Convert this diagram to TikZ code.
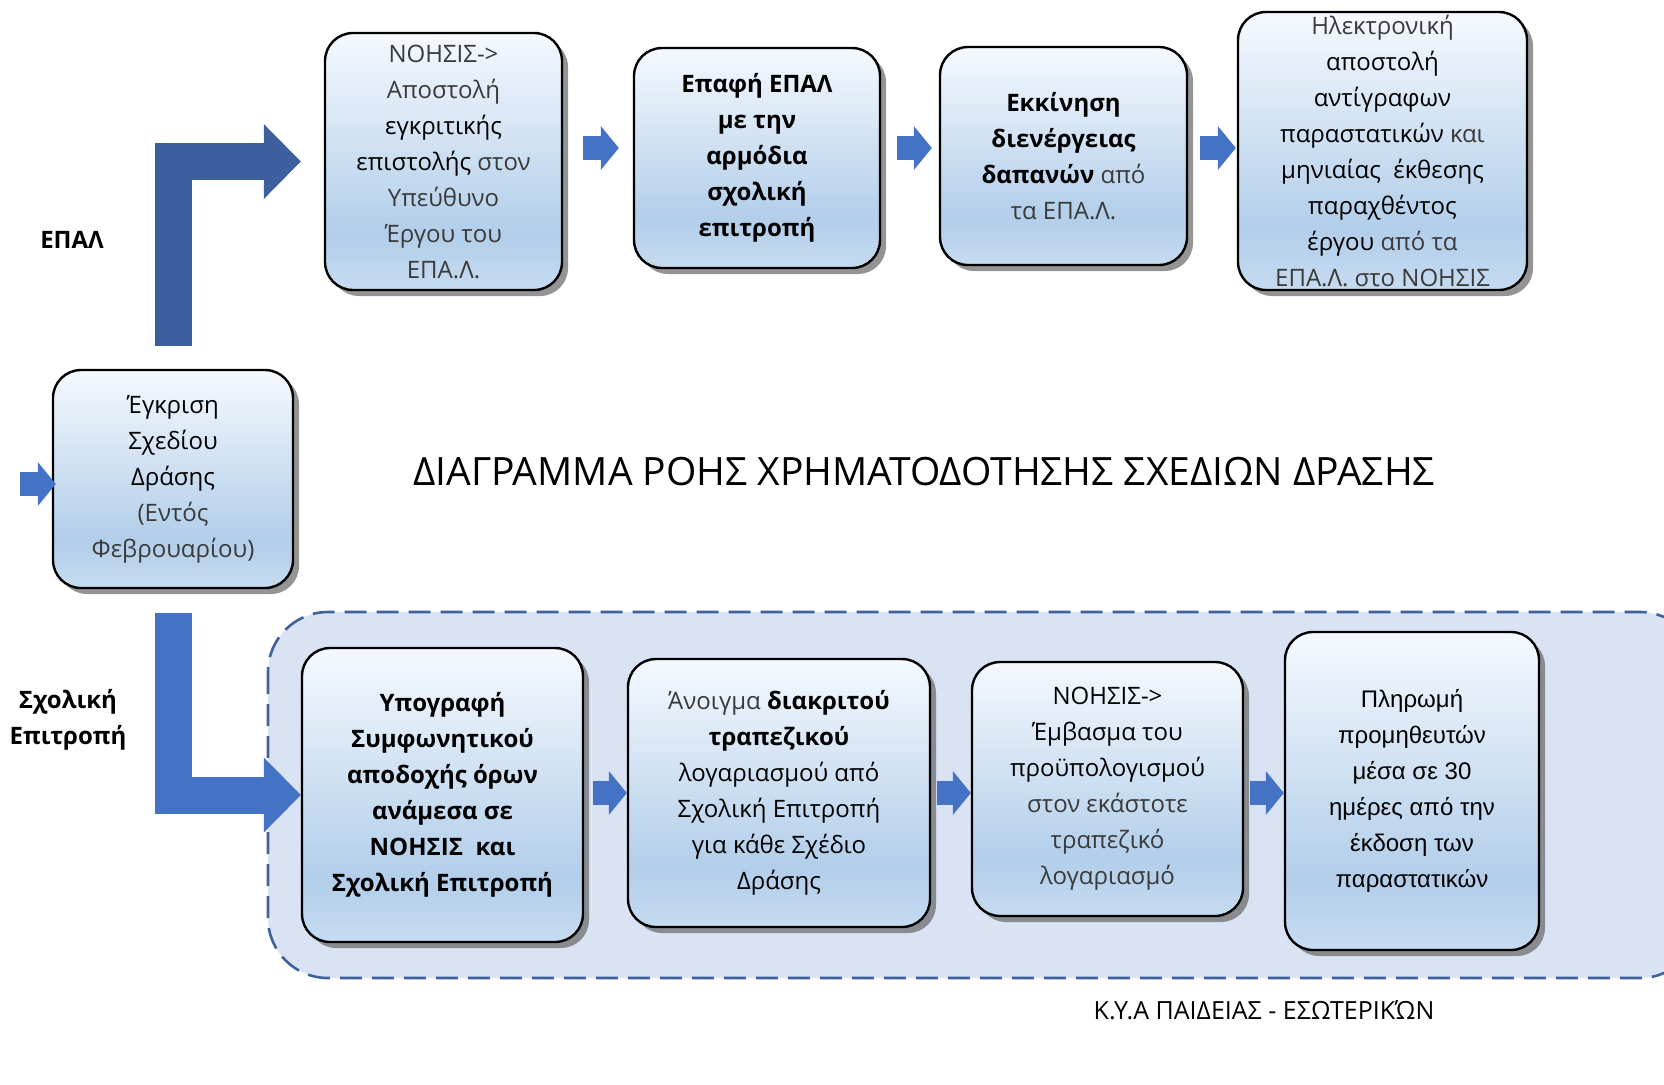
\documentclass[tikz,border=0pt]{standalone}
\usepackage{fontspec}
\setmainfont{Open Sans}
\newfontfamily\arialfont{Liberation Sans}
\usetikzlibrary{arrows.meta,shadows,positioning,calc}
\definecolor{boxtop}{HTML}{F5F9FE}
\definecolor{boxbot}{HTML}{B2CEEA}
\definecolor{boxlow}{HTML}{C6DBF0}
\definecolor{flowblue}{HTML}{4472C4}
\definecolor{flowdark}{HTML}{3E5F9E}
\definecolor{groupfill}{HTML}{DAE3F3}
\definecolor{groupline}{HTML}{41609E}
\definecolor{faintgray}{HTML}{3A3A3A}
\pgfdeclareverticalshading{stagefade}{100bp}{color(0bp)=(boxlow); color(25bp)=(boxlow); color(36bp)=(boxbot); color(75bp)=(boxtop); color(100bp)=(boxtop)}
\newcommand{\faint}[1]{{\color{faintgray}#1}}
\tikzstyle{stage} = [draw, rounded corners=14pt, line width=1.2pt, shading=stagefade, drop shadow={shadow xshift=3pt, shadow yshift=-3pt, fill=black!60, opacity=0.7}, align=center, font=\fontsize{12}{18}\selectfont, inner sep=1pt]
\tikzstyle{flow} = [draw=flowblue, line width=12pt, -{Triangle[width=22pt, length=9pt, line width=0pt]}]
\tikzstyle{bigflow} = [draw, line width=18.5pt, line join=miter, -{Triangle[width=37.5pt, length=18.5pt, line width=0pt]}]
\tikzstyle{group} = [fill=groupfill, draw=groupline, line width=1.3pt, dash pattern=on 11pt off 5pt, rounded corners=30pt]
\tikzstyle{lane} = [align=center, font=\bfseries\fontsize{12}{18}\selectfont]

\begin{document}
\begin{tikzpicture}[x=0.5pt, y=-0.5pt, >=stealth]
    \useasboundingbox (0,0) rectangle (1664,1084);
    \draw [group] (268,612) rectangle (1700,978);

    \node [stage, minimum width=120pt, minimum height=109pt] (approve) at (173,479) {Έγκριση\\Σχεδίου\\Δράσης\\\faint{(Εντός}\\\faint{Φεβρουαρίου)}};
    \node [stage, minimum width=118.5pt, minimum height=128.5pt] (letter) at (443.5,161.5) {\faint{ΝΟΗΣΙΣ->}\\\faint{Αποστολή}\\εγκριτικής\\επιστολής \faint{στον}\\\faint{Υπεύθυνο}\\\faint{Έργου του}\\\faint{ΕΠΑ.Λ.}};
    \node [stage, minimum width=123pt, minimum height=110pt, font=\bfseries\fontsize{12}{18}\selectfont] (contact) at (757,158) {Επαφή ΕΠΑΛ\\με την\\αρμόδια\\σχολική\\επιτροπή};
    \node [stage, minimum width=123.5pt, minimum height=109pt] (spend) at (1063.5,156) {\textbf{Εκκίνηση}\\\textbf{διενέργειας}\\\textbf{δαπανών} \faint{από}\\\faint{τα ΕΠΑ.Λ.}};
    \node [stage, minimum width=144.5pt, minimum height=139pt, inner ysep=0pt] (report) at (1382.5,151) {\faint{Ηλεκτρονική}\\αποστολή\\αντίγραφων\\παραστατικών \faint{και}\\μηνιαίας\ \ έκθεσης\\παραχθέντος\\έργου \faint{από τα}\\\faint{ΕΠΑ.Λ. στο ΝΟΗΣΙΣ}};

    \node [stage, minimum width=140.5pt, minimum height=147pt, font=\bfseries\fontsize{12}{18}\selectfont] (sign) at (442.5,795) {Υπογραφή\\Συμφωνητικού\\αποδοχής όρων\\ανάμεσα σε\\ΝΟΗΣΙΣ\ \ και\\Σχολική Επιτροπή};
    \node [stage, minimum width=151pt, minimum height=134pt] (account) at (779,793) {\faint{Άνοιγμα} \textbf{διακριτού}\\\textbf{τραπεζικού}\\λογαριασμού από\\Σχολική Επιτροπή\\για κάθε Σχέδιο\\Δράσης};
    \node [stage, minimum width=135.5pt, minimum height=127pt] (transfer) at (1107.5,789) {ΝΟΗΣΙΣ->\\Έμβασμα του\\προϋπολογισμού\\\faint{στον εκάστοτε}\\\faint{τραπεζικό}\\\faint{λογαριασμό}};
    \node [stage, minimum width=127pt, minimum height=159pt, font=\arialfont\fontsize{12}{18}\selectfont] (payment) at (1412,791) {Πληρωμή\\προμηθευτών\\μέσα σε 30\\ημέρες από την\\έκδοση των\\παραστατικών};

    \node [lane] (epal) at (72,240) {ΕΠΑΛ};
    \node [lane] (committee) at (68,720) {Σχολική\\Επιτροπή};
    \node [font=\fontsize{19.5}{22}\selectfont] (title) at (924,472) {ΔΙΑΓΡΑΜΜΑ ΡΟΗΣ ΧΡΗΜΑΤΟΔΟΤΗΣΗΣ ΣΧΕΔΙΩΝ ΔΡΑΣΗΣ};
    \node [font=\fontsize{12.5}{14}\selectfont] (source) at (1264,1010) {Κ.Υ.Α ΠΑΙΔΕΙΑΣ - ΕΣΩΤΕΡΙΚΏΝ};

    \coordinate (entry) at (20,484);
    \coordinate (toprow) at (0,148);
    \coordinate (botrow) at (0,793);

    \draw [bigflow, flowdark, shorten <=11.5pt, shorten >=11.5pt] (approve.north) |- (letter.west);
    \draw [bigflow, flowblue, shorten <=12pt] (approve.south) |- (sign.west);
    \draw [flow, shorten >=-2pt] (entry) -- (entry -| approve.west);

    \draw [flow, shorten <=10pt, shorten >=7pt] (letter.east |- toprow) -- (contact.west |- toprow);
    \draw [flow, shorten <=8pt, shorten >=3.5pt] (contact.east |- toprow) -- (spend.west |- toprow);
    \draw [flow, shorten <=6pt, shorten >=0.5pt] (spend.east |- toprow) -- (report.west |- toprow);

    \draw [flow, shorten <=4.5pt] (sign.east |- botrow) -- (account.west |- botrow);
    \draw [flow, shorten <=3pt] (account.east |- botrow) -- (transfer.west |- botrow);
    \draw [flow, shorten <=3pt] (transfer.east |- botrow) -- (payment.west |- botrow);
\end{tikzpicture}
\end{document}
